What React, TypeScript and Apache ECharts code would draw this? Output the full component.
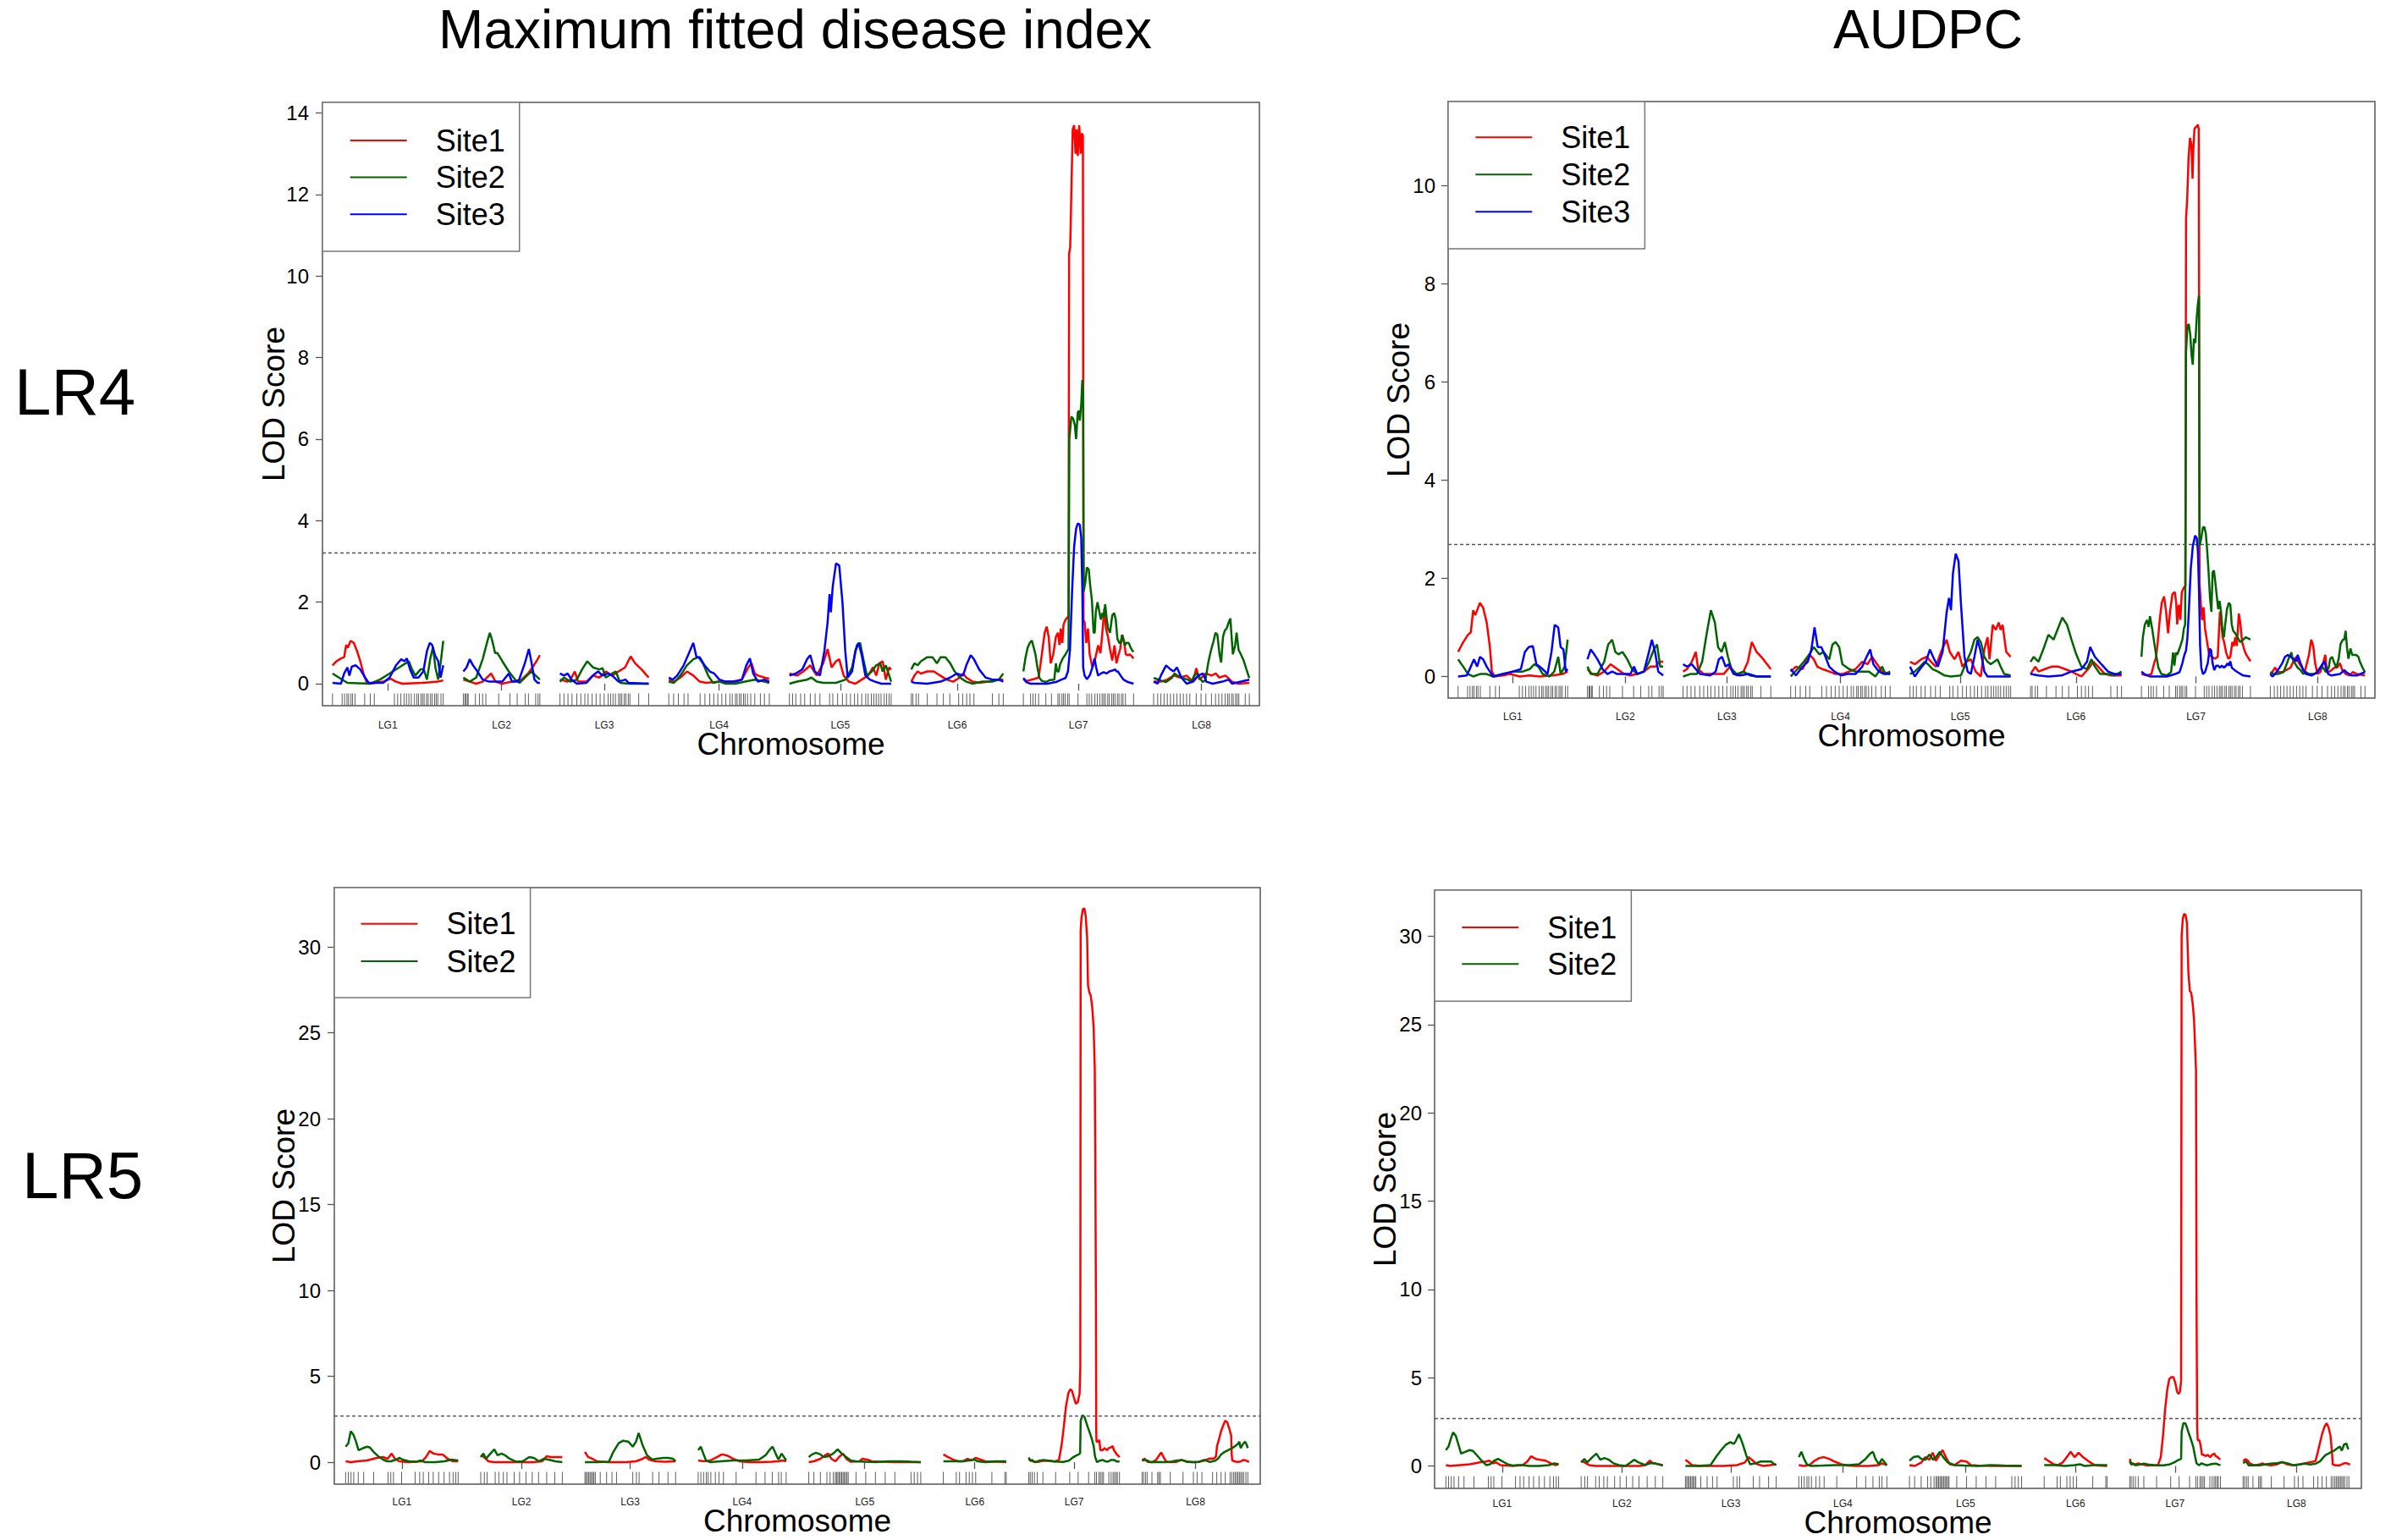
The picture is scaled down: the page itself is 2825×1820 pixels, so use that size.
import React, { useEffect, useRef } from 'react';
import * as echarts from 'echarts';

// ---------------- DATA ----------------
const CHROMS = ['LG1', 'LG2', 'LG3', 'LG4', 'LG5', 'LG6', 'LG7', 'LG8'];
const GAP_CM = 25;

// chromosome lengths (cM) of the two maps
const LR4_LENGTHS = [137.8, 95.2, 110.4, 125.1, 126.6, 114.5, 137.1, 119.1];
const LR5_LENGTHS = [124.6, 90.3, 100.4, 97.4, 124, 69.6, 100.4, 118.3];

// marker positions (cM within chromosome) – rug
const LR4_MARKERS = [
  [0, 12, 15, 18, 20, 23, 25, 28, 40, 47, 52, 77, 81, 85, 89, 92, 95, 98, 102, 105, 107, 110, 112, 114, 117, 119, 122, 124, 127, 129, 131, 135, 137.8],
  [0, 2, 3, 5, 6, 15, 20, 24, 28, 44, 58, 67, 77, 81, 90, 93, 95.2],
  [0, 5, 10, 15, 21, 26, 31, 35, 40, 45, 50, 55, 60, 63, 66, 69, 73, 75, 77, 80, 82, 85, 87, 98, 110.4],
  [0, 6, 12, 19, 24, 39, 45, 51, 56, 61, 66, 71, 76, 79, 83, 85, 88, 90, 93, 95, 98, 102, 107, 114, 119, 125.1],
  [0, 4, 8, 14, 19, 26, 32, 38, 50, 54, 60, 66, 71, 76, 81, 85, 90, 95, 98, 102, 105, 108, 111, 114, 118, 121, 124, 126.6],
  [0, 2, 6, 9, 20, 32, 40, 48, 59, 64, 69, 73, 78, 101, 109, 114.5],
  [0, 9, 12, 15, 19, 28, 35, 43, 45, 48, 50, 52, 55, 57, 68, 79, 82, 85, 89, 92, 95, 98, 100, 102, 105, 107, 110, 112, 114, 117, 119, 122, 124, 127, 137.1],
  [0, 5, 9, 13, 17, 21, 25, 29, 33, 37, 41, 45, 53, 59, 65, 72, 77, 81, 85, 89, 92, 94, 97, 99, 102, 104, 106, 114, 119.1],
];
const LR5_MARKERS = [
  [0, 3, 6, 9, 14, 20, 31, 47, 50, 53, 62, 77, 82, 86, 92, 97, 103, 109, 115, 119, 122, 124.6],
  [0, 4, 7, 16, 20, 25, 29, 37, 43, 50, 57, 64, 73, 82, 90.3],
  [0, 1.4, 2.9, 4.3, 5.7, 7.2, 8.6, 10, 11.5, 17, 24, 30, 35, 53, 57, 60, 75, 82, 92, 100.4],
  [0, 3, 6, 9, 11, 14, 19, 23, 28, 42, 64, 74, 82, 89, 92, 97.4],
  [0, 5.7, 12.9, 20.1, 23.6, 27.2, 29.4, 30.8, 32.2, 33.7, 35.1, 36.5, 38, 39.4, 40.8, 42.3, 43.7, 52.3, 63.1, 73.8, 84.6, 95.3, 113.2, 116.8, 120.4, 124],
  [0, 14.3, 17.9, 25.1, 28.7, 32.2, 35.8, 53.7, 68.1, 69.6],
  [0, 1.6, 3.7, 6.2, 9.4, 15.6, 29.7, 45.3, 54.6, 66.2, 73, 74.9, 77.7, 79.3, 81.1, 82.7, 88.6, 91.1, 93.3, 94.9, 96.7, 98, 100.4],
  [0, 1.6, 3.7, 5.6, 10.9, 17.2, 18.7, 20.3, 31.2, 45.3, 56.8, 60.9, 66.2, 78, 82.7, 87.4, 92.1, 97.4, 99.3, 101.4, 103, 104.6, 106.1, 107.7, 109.2, 110.8, 112.4, 114.9, 117],
];

// y tick labels
const LR4_MAXDI_TICKS = [0, 2, 4, 6, 8, 10, 12, 14];
const LR4_AUDPC_TICKS = [0, 2, 4, 6, 8, 10];
const LR5_TICKS = [0, 5, 10, 15, 20, 25, 30];

// LOD thresholds
const THR_LR4_MAXDI = 3.21;
const THR_LR4_AUDPC = 2.7;
const THR_LR5_MAXDI = 2.69;
const THR_LR5_AUDPC = 2.69;

// ---- LR4, Maximum fitted disease index: [cM, LOD] per chromosome ----
const MAXDI_LR4_SITE1 = [
  [[0,0.45],[5,0.55],[10.5,0.62],[14.5,0.65],[17,0.95],[19,0.88],[22.5,1.05],[26.5,1.0],[30.5,0.8],[34.5,0.55],[38.5,0.25],[42.5,0.03],[47,0],[63,0.05],[72.5,0.12],[79,0.05],[87,0],[111,0.02],[131,0.05],[137.8,0.08]],
  [[0,0.1],[8,0.05],[16,0],[24,0.05],[34.5,0.25],[40,0.05],[48,0],[60.5,0.05],[72.5,0.1],[80.5,0.25],[86,0.4],[91,0.55],[95.2,0.7]],
  [[0,0.1],[9,0.05],[13,0.1],[18.5,0.3],[22.5,0.05],[33,0.05],[41,0.2],[49,0.15],[57,0.3],[65,0.2],[73,0.3],[81,0.4],[88,0.67],[93.5,0.5],[101.5,0.35],[110.4,0.15]],
  [[0,0.1],[6.5,0.05],[14.5,0.15],[22.5,0.3],[30.5,0.2],[38.5,0.05],[46.5,0.02],[63,0.05],[79,0.05],[91,0.1],[99,0.4],[103,0.5],[107,0.25],[111,0.2],[119,0.15],[125.1,0.12]],
  [[0,0.25],[9.5,0.2],[17.5,0.3],[26,0.45],[34,0.2],[42,0.5],[47.5,0.85],[52.5,0.4],[58,0.55],[62,0.6],[67.5,0.2],[74,0.05],[82,0],[90,0.1],[98,0.2],[104,0.4],[108,0.2],[112,0.5],[116,0.55],[120,0.1],[124,0.4],[126.6,0.35]],
  [[0,0.05],[4,0.2],[8,0.3],[12,0.25],[20,0.3],[28,0.3],[36,0.2],[44,0.1],[52,0.05],[60.5,0.15],[64.5,0.25],[68.5,0.15],[76.5,0.05],[84.5,0.02],[96.5,0.05],[109,0.1],[114.5,0.1]],
  [[0,0.1],[5,0.07],[14,0.12],[19,0.15],[23,0.72],[26.5,1.25],[29,1.4],[31.5,1.15],[34,0.5],[37,0.7],[40.5,1.15],[43,1.25],[45,0.95],[46.5,1.35],[48.5,1.0],[50,1.45],[52.5,1.57],[55,1.63],[56.2,1.65],[56.9,10.55],[58.3,10.7],[59.7,12.05],[61.4,13.6],[63.2,13.7],[64.9,13.0],[66.3,13.6],[67.7,12.95],[69.5,13.7],[71.3,13.0],[72.7,13.5],[74.1,13.45],[74.8,1.57],[76.2,1.5],[78.3,1.0],[80.4,1.35],[82.5,0.72],[86,0.4],[89.5,0.62],[93,0.94],[96,0.75],[98.3,1.25],[100.7,1.84],[102.8,1.35],[105.3,1.15],[107.8,0.85],[110.6,0.57],[113.4,0.94],[115.8,0.5],[118.3,0.7],[120.4,0.84],[122.9,1.2],[125.3,1.05],[127.4,0.72],[130,0.7],[132.3,0.72],[135,0.67],[137.1,0.62]],
  [[0,0.05],[9,0.05],[17,0.1],[25,0.2],[33,0.15],[41,0.2],[49,0.05],[53,0.38],[57,0.1],[65,0.25],[72,0.2],[77.5,0.25],[81.5,0.15],[89.5,0.2],[97.5,0.05],[105.5,0],[119.1,0.02]],
];
const MAXDI_LR4_SITE2 = [
  [[0,0.25],[10.5,0.12],[18.5,0.02],[47,0],[59,0.1],[71,0.25],[83,0.4],[91,0.5],[95,0.55],[99,0.35],[103,0.2],[109.5,0.35],[113.5,0.35],[117.5,0.1],[121.5,0.6],[125,0.9],[128,0.4],[131.5,0.1],[134.5,0.5],[137.8,1.05]],
  [[0,0.15],[8,0.05],[16,0.15],[24,0.6],[30,1.05],[33,1.25],[36,1.05],[39.5,0.75],[42.5,0.75],[48.5,0.55],[56.5,0.3],[64.5,0.1],[70,0.02],[76.5,0.15],[84.5,0.3],[90,0.2],[95.2,0.1]],
  [[0,0.05],[5,0.15],[13,0.05],[21,0.1],[27.5,0.35],[34,0.55],[41,0.4],[49,0.35],[53,0.38],[57,0.15],[65,0.25],[69.5,0.3],[75,0.02],[85.5,0],[110.4,0]],
  [[0,0.05],[6.5,0.02],[14.5,0.2],[22.5,0.45],[30.5,0.6],[37,0.65],[42.5,0.5],[49,0.2],[55,0.02],[63,0.05],[71,0],[83,0],[95,0.05],[107,0.1],[119,0.05],[125.1,0.02]],
  [[0,0],[9.5,0.05],[22,0.1],[27.5,0.15],[34,0.05],[42,0.02],[58,0.02],[70,0.1],[78,0.4],[84,0.95],[88,1.0],[92,0.6],[96.5,0.2],[102.5,0.3],[108,0.45],[113,0.5],[116,0.3],[120,0.45],[126.6,0.05]],
  [[0,0.35],[4,0.5],[8,0.45],[12,0.55],[20,0.65],[26.5,0.65],[32,0.5],[36.5,0.65],[42.5,0.65],[48.5,0.5],[54,0.3],[60.5,0.15],[68.5,0.05],[76.5,0],[88.5,0.05],[101,0.05],[109,0.1],[114.5,0.25]],
  [[0,0.3],[2.5,0.62],[5.3,0.88],[8,1.0],[10.5,1.06],[13,0.88],[15,0.72],[17.5,0.4],[20,0.14],[23,0.07],[28,0.04],[33,0.09],[38.5,0.1],[40.5,0.5],[42,0.3],[44,0.3],[45.5,0.46],[49,0.62],[52.5,0.72],[55.5,0.83],[56.2,0.85],[57.2,6.0],[59.7,6.55],[62,6.5],[64,6.35],[65.6,6.0],[67.7,6.65],[69,6.7],[70.2,6.45],[72,6.85],[73.4,7.45],[74.4,7.1],[75.1,2.26],[77.2,2.5],[79,2.85],[81.4,2.8],[83.2,2.4],[85.3,2.05],[87.4,1.25],[88.8,1.25],[90.2,1.78],[92.3,2.0],[94.4,1.78],[96.5,1.57],[98.3,1.73],[100,1.63],[101.8,1.95],[103.5,1.63],[105.3,1.36],[107.8,1.25],[110.6,1.68],[113,1.73],[115,1.57],[117,1.1],[119.3,1.0],[121,1.0],[123,1.2],[124.6,1.05],[126.4,0.94],[128,1.0],[131,1.0],[133.4,0.89],[135,0.83],[137.1,0.78]],
  [[0,0.14],[5,0.11],[10,0.07],[15.5,0.04],[22.5,0.14],[26,0.25],[29.5,0.2],[36.5,0.14],[43.5,0.09],[47,0.04],[50.5,0.2],[54,0.25],[57.5,0.14],[61,0.04],[64.5,0.09],[68,0.52],[71.5,0.83],[74.5,1.04],[77,1.25],[79.3,1.2],[82,0.72],[84,0.52],[86.3,1.15],[88.5,1.3],[91,1.36],[93.7,1.52],[95.5,1.6],[97,1.15],[98.6,0.72],[101.4,0.94],[103.2,1.25],[105.7,0.83],[108.5,0.72],[112,0.57],[115.5,0.35],[118,0.2],[119.1,0.14]],
];
const MAXDI_LR4_SITE3 = [
  [[0,0.02],[10.5,0],[14.5,0.25],[18.5,0.4],[21,0.2],[24,0.42],[29,0.45],[34.5,0.35],[40.5,0.15],[45,0.02],[63,0.02],[71,0.15],[79,0.45],[85.5,0.6],[89.5,0.55],[92.5,0.62],[96.5,0.35],[101,0.15],[107,0.15],[113,0.3],[117.5,0.8],[121,1.0],[124,0.95],[127.5,0.7],[131.5,0.55],[134.5,0.15],[137.8,0.45]],
  [[0,0.3],[4,0.4],[8,0.6],[12,0.45],[17.5,0.3],[24,0.1],[32,0.05],[40,0.05],[48.5,0.05],[56.5,0.25],[60.5,0.05],[68.5,0.05],[76.5,0.5],[81.5,0.85],[84.5,0.55],[88.5,0.1],[92.5,0.02],[95.2,0.02]],
  [[0,0.25],[5,0.2],[9.5,0.25],[14.5,0.1],[21,0],[33,0.02],[41,0.2],[47.5,0.3],[53,0.2],[59.5,0.25],[65,0.2],[73,0.05],[81.5,0.1],[85.5,0.02],[110.4,0]],
  [[0,0.15],[5,0.1],[10.5,0.2],[18.5,0.45],[24,0.7],[30.5,1.0],[34.5,0.65],[38.5,0.65],[44.5,0.45],[51,0.3],[56.5,0.25],[63,0.1],[71,0.05],[83,0.05],[91,0.1],[96.5,0.45],[101,0.62],[105,0.25],[111,0.05],[119,0.1],[125.1,0.05]],
  [[0,0.2],[8,0.25],[16,0.35],[22,0.6],[26,0.7],[31.5,0.3],[38,0.2],[43.5,0.8],[47.5,1.5],[50,2.2],[51.5,1.75],[54,2.4],[58,2.95],[62,2.9],[66,2.0],[69.5,0.8],[72.5,0.15],[78,0.3],[82,0.8],[86,1.0],[90,0.7],[94.5,0.2],[100,0.1],[106.5,0.05],[114.5,0],[126.6,0]],
  [[0,0.05],[4,0.02],[20,0],[36.5,0.05],[48.5,0.15],[56.5,0.25],[64.5,0.2],[68.5,0.45],[74,0.7],[78,0.6],[84.5,0.35],[92.5,0.15],[101,0.1],[109,0.1],[114.5,0.05]],
  [[0,0.14],[3.5,0.04],[9,0],[30,0],[40.5,0.04],[47.5,0.1],[52.5,0.14],[55.5,0.3],[58,0.83],[60.7,2.3],[63.2,3.37],[65.6,3.8],[67.7,3.93],[70.2,3.9],[72,3.58],[73.4,2.3],[74.4,0.4],[76.2,0.2],[79,0.11],[82.5,0.2],[86,0.4],[88.5,0.62],[90.6,0.4],[93,0.2],[96.5,0.25],[100,0.28],[103.5,0.25],[107,0.3],[110.6,0.32],[114,0.35],[116,0.3],[117.6,0.3],[121,0.2],[124.6,0.1],[130,0.04],[137.1,0]],
  [[0,0.05],[5,0],[9,0.2],[15.5,0.45],[21,0.35],[25,0.3],[29,0.4],[34.5,0.15],[41,0],[49,0.05],[55.5,0.2],[61.5,0.25],[65.5,0.05],[73.5,0],[85.5,0.05],[93.5,0.1],[97.5,0],[119.1,0.1]],
];

// ---- LR4, AUDPC ----
const AUDPC_LR4_SITE1 = [
  [[0,0.5],[6.5,0.7],[12.5,0.85],[16,0.9],[19,1.35],[21.5,1.25],[24,1.35],[27.5,1.5],[31.5,1.4],[36,1.1],[40,0.6],[42.5,0.1],[46,0],[56.5,0.02],[65,0.05],[77.5,0],[90,0.02],[102.5,0],[119,0.02],[131.5,0.05],[137.8,0.1]],
  [[0,0.15],[6,0.05],[12.5,0.02],[21,0.1],[29,0.25],[37.5,0.15],[46,0.05],[54,0.02],[62.5,0.05],[71,0.1],[79,0.2],[86,0.2],[90,0.3],[95.2,0.3]],
  [[0,0.1],[5,0.15],[11,0.3],[16,0.5],[19,0.15],[26,0.05],[34,0.05],[42.5,0.05],[51,0.05],[59,0.2],[67.5,0.02],[76,0.1],[81.5,0.3],[86.5,0.7],[92.5,0.5],[101,0.35],[110.4,0.15]],
  [[0,0.1],[6.5,0.2],[15,0.15],[23.5,0.45],[29,0.35],[33.5,0.2],[40,0.15],[48.5,0.1],[56.5,0.05],[65,0.05],[73.5,0.1],[81.5,0.15],[90,0.3],[96.5,0.25],[102.5,0.4],[106.5,0.3],[115,0.1],[125.1,0.05]],
  [[0,0.3],[6,0.25],[14,0.35],[21,0.4],[26.5,0.3],[32.5,0.2],[39,0.5],[46,0.75],[50,0.5],[56,0.35],[61,0.5],[66,0.2],[71,0.3],[76.5,0.35],[82.5,0.1],[89,0],[93.5,0.55],[97.5,0.8],[100,0.35],[104,1.05],[108,0.95],[111.5,1.1],[114,0.95],[116.5,1.05],[121,0.5],[126.6,0.4]],
  [[0,0.05],[6,0.2],[10,0.1],[18,0.15],[26.5,0.2],[35,0.2],[43.5,0.15],[51.5,0.1],[57.5,0.05],[64,0],[72.5,0.15],[79,0.3],[85,0.2],[93.5,0.05],[101.5,0.02],[114.5,0.02]],
  [[0,0.05],[7,0.02],[12.5,0.05],[16,0.27],[18.5,0.4],[20.5,0.7],[23,1.15],[25.5,1.5],[28.5,1.63],[31,1.32],[33.5,0.88],[36,1.32],[39,1.68],[42,1.72],[43.7,1.5],[45,1.06],[47,1.46],[49,1.15],[50.8,1.72],[53.3,1.81],[55.4,1.85],[56.1,9.34],[57.5,9.7],[59.3,10.57],[61.1,10.97],[62.8,10.84],[64.3,10.14],[65.3,10.75],[66.7,11.15],[68.2,11.19],[69.6,11.2],[71,11.24],[72.1,11.15],[73.1,1.9],[74.6,1.5],[76.3,1.15],[78.1,1.41],[80,0.97],[81.7,0.8],[83.4,0.62],[85.2,0.44],[88.8,0.4],[92.3,0.36],[96,0.4],[98.7,1.32],[100.1,1.15],[102.2,0.8],[104,0.7],[106.5,0.49],[109.3,0.36],[111.8,0.4],[114.3,0.7],[116.4,0.62],[118,0.8],[120,0.62],[122.5,1.28],[124.3,1.1],[126.7,0.7],[129.6,0.53],[132,0.44],[137.1,0.31]],
  [[0,0.05],[2.5,0.09],[6,0.18],[9.5,0.09],[15,0.09],[20,0.13],[25.5,0.18],[29,0.31],[32.7,0.4],[36,0.27],[40,0.18],[43.3,0.09],[48.6,0.44],[51.5,0.75],[54,0.62],[56.4,0.27],[59.3,0.05],[63,0.09],[66.4,0.27],[69.2,0.44],[71,0.13],[73.5,0.09],[77,0.13],[80.6,0.18],[84,0.18],[87.7,0.27],[90.5,0.13],[95,0.05],[100,0.02],[103.7,0.09],[109,0.05],[119.1,0.02]],
];
const AUDPC_LR4_SITE2 = [
  [[0,0.35],[6.5,0.2],[12.5,0.05],[19,0],[27.5,0.05],[36,0.05],[44,0],[56.5,0.05],[69,0.1],[81.5,0.1],[90,0.15],[96,0.25],[101,0.2],[106.5,0.05],[115,0],[121,0.1],[126,0.4],[129,0.05],[134,0.2],[137.8,0.75]],
  [[0,0.2],[4,0.05],[12.5,0.05],[21,0.3],[26,0.65],[31,0.75],[35,0.5],[39,0.45],[44,0.5],[50,0.35],[56,0.15],[62.5,0.05],[71,0.1],[77.5,0.3],[83.5,0.55],[87.5,0.65],[91.5,0.2],[95.2,0.2]],
  [[0,0],[9,0.05],[17.5,0.05],[24,0.3],[30,0.9],[35,1.35],[40,1.1],[44,0.6],[48.5,0.5],[52.5,0.7],[56.5,0.4],[61,0.15],[67.5,0.05],[76,0.1],[84,0.02],[92.5,0],[110.4,0]],
  [[0,0],[8.5,0.15],[16.5,0.3],[23.5,0.45],[29,0.6],[36,0.45],[41.5,0.5],[48.5,0.35],[52.5,0.65],[56.5,0.7],[61,0.6],[65,0.25],[73.5,0.15],[81.5,0.1],[90,0.1],[98.5,0.1],[106.5,0],[115,0.2],[119,0.05],[125.1,0.1]],
  [[0,0.05],[6,0.1],[12.5,0.2],[18.5,0.3],[22.5,0.25],[28.5,0.15],[35,0.1],[43.5,0.02],[51.5,0],[64,0.02],[71,0.3],[76.5,0.5],[81,0.75],[85,0.8],[89,0.7],[93.5,0.4],[97.5,0.3],[101.5,0.25],[106,0.3],[110,0.35],[114,0.2],[118.5,0.05],[126.6,0.02]],
  [[0,0.3],[4,0.4],[10,0.3],[16,0.55],[22.5,0.85],[29,0.75],[35,1.0],[40,1.2],[46,1.05],[51.5,0.75],[57.5,0.45],[64,0.2],[71,0.15],[76.5,0.35],[81,0.2],[87.5,0.05],[97.5,0.05],[106,0.02],[114.5,0.1]],
  [[0,0.4],[1.8,0.8],[4.3,1.06],[7,1.15],[9,1.01],[10.7,1.23],[13.5,0.97],[16,0.7],[18.5,0.44],[21.3,0.18],[25,0.05],[32,0.02],[37.3,0.09],[39.8,0.49],[41.5,0.22],[43.3,0.49],[45,0.44],[47,0.53],[49,0.62],[51.5,0.75],[53.3,0.97],[55,1.06],[56.1,6.61],[57.9,7.14],[59.6,7.18],[61.4,6.96],[63.2,6.52],[64.6,6.35],[66,6.88],[67.8,6.79],[69.6,7.32],[71,7.58],[72.4,7.76],[73.1,2.65],[75.3,2.82],[77.4,3.04],[79.2,3.04],[81,2.91],[82.7,2.56],[84.5,2.12],[86.3,1.59],[88,1.32],[89.5,2.12],[91.2,2.16],[93.4,1.85],[94.8,1.63],[96.6,1.37],[98.3,1.54],[100.1,1.32],[102,0.93],[103.7,0.8],[105.4,1.06],[107.6,1.37],[110,1.5],[111.8,1.46],[113.6,1.06],[115.4,0.93],[118,0.88],[120.7,0.8],[124.3,0.7],[128,0.75],[131.4,0.8],[137.1,0.75]],
  [[0,0.09],[4.3,0.05],[9.6,0.05],[16.7,0.09],[21,0.27],[23.8,0.4],[26.6,0.49],[28,0.36],[31,0.27],[34.4,0.18],[38,0.13],[41.5,0.05],[45,0.09],[48.6,0.05],[55.7,0.05],[59.3,0.09],[62.8,0.18],[66.4,0.18],[70,0.09],[73.5,0.18],[75.3,0.36],[77.7,0.4],[80.6,0.27],[83,0.18],[86,0.36],[88.4,0.66],[91.2,0.75],[93,0.75],[94.8,0.93],[96.6,0.57],[98.3,0.36],[100.8,0.57],[103,0.44],[105.4,0.44],[108,0.44],[110.8,0.4],[112.5,0.31],[116,0.18],[119.1,0.09]],
];
const AUDPC_LR4_SITE3 = [
  [[0,0],[11,0.02],[16,0.2],[20,0.35],[24,0.2],[27.5,0.4],[31.5,0.35],[36,0.2],[40,0.1],[44,0],[56.5,0.05],[69,0.1],[79,0.15],[84,0.5],[89,0.6],[94,0.62],[98.5,0.25],[102.5,0.2],[106.5,0.15],[112.5,0.05],[117.5,0.5],[121.5,1.05],[126,1.0],[129,0.6],[132.5,0.55],[135.5,0.1],[137.8,0.15]],
  [[0,0.35],[4,0.55],[8.5,0.45],[12.5,0.35],[19,0.15],[25,0.05],[31,0.1],[37.5,0.05],[46,0.05],[54,0.05],[58.5,0.2],[62.5,0.05],[71,0.1],[76.5,0.45],[81,0.75],[85,0.5],[89,0.1],[95.2,0.02]],
  [[0,0.25],[5,0.2],[11,0.25],[16,0.15],[21.5,0.05],[34,0.02],[41,0.1],[45,0.35],[49,0.4],[53.5,0.2],[57.5,0.25],[63.5,0.05],[71.5,0.02],[82.5,0.05],[92.5,0],[110.4,0]],
  [[0,0.15],[6.5,0.02],[15,0.2],[21.5,0.3],[26,0.55],[30,1.0],[34,0.6],[38.5,0.6],[42.5,0.45],[48.5,0.2],[55,0.1],[63.5,0.02],[71.5,0.05],[81.5,0.05],[90,0.2],[94,0.35],[100,0.55],[104,0.25],[111,0.1],[117.5,0.05],[125.1,0.05]],
  [[0,0.2],[6,0],[12.5,0.15],[20,0.3],[25,0.55],[29,0.4],[35,0.2],[41,0.5],[46,1.3],[49,1.6],[51.5,1.35],[54,2.1],[57.5,2.5],[61,2.35],[64,1.5],[68.5,0.4],[72.5,0.1],[76.5,0.05],[81,0.4],[85,0.75],[89,0.5],[93.5,0.1],[97.5,0],[110,0],[126.6,0]],
  [[0,0.05],[10,0.02],[22.5,0],[39,0.02],[51.5,0.1],[64,0.15],[71,0.3],[75,0.6],[81,0.4],[89,0.25],[97.5,0.1],[106,0.05],[114.5,0.05]],
  [[0,0.1],[3.6,0.05],[10.7,0],[32,0],[42.6,0.05],[48,0.09],[51.5,0.27],[54,0.44],[56.1,0.53],[57.9,0.8],[59.6,1.32],[62.1,2.2],[64.6,2.65],[67.5,2.87],[69.6,2.82],[71,2.56],[72.4,1.76],[73.8,0.62],[75.3,0.18],[77.4,0.05],[80,0.09],[83.4,0.27],[86,0.57],[87.7,0.53],[89.5,0.27],[91.6,0.13],[94,0.22],[96.6,0.22],[98.7,0.18],[101.2,0.22],[103.7,0.18],[106.5,0.22],[108.3,0.27],[110,0.22],[111.8,0.31],[113.6,0.18],[117.2,0.13],[120.7,0.09],[128,0.02],[137.1,0]],
  [[0,0.05],[2.5,0],[6,0.05],[9.6,0.13],[15,0.27],[18.5,0.4],[22,0.44],[25.6,0.4],[29,0.36],[32.7,0.31],[34.4,0.44],[36.2,0.36],[38,0.27],[41.5,0.13],[45,0.05],[52,0.02],[59.3,0.09],[62.8,0.18],[66.4,0.27],[68.2,0.31],[70,0.18],[72.8,0.05],[77,0.02],[87.7,0.05],[93,0.13],[95.5,0.09],[102,0.02],[109,0.02],[119.1,0.09]],
];

// ---- LR5, Maximum fitted disease index ----
const MAXDI_LR5_SITE1 = [
  [[0,0.05],[6,0],[13,0.05],[23.5,0.1],[34.5,0.25],[41.5,0.3],[46.5,0.2],[51,0.5],[54.5,0.2],[59.5,0.05],[70,0],[84.5,0.05],[89,0.3],[93,0.65],[97.5,0.5],[102.5,0.45],[107.5,0.45],[113,0.2],[119,0.05],[124.6,0.05]],
  [[0,0.4],[3.5,0.3],[8.5,0.05],[14.5,0],[29,0],[43,0],[57.5,0],[68,0.05],[73,0.35],[77.5,0.3],[82.5,0.3],[90.3,0.3]],
  [[0,0.6],[3.5,0.3],[8,0.2],[13.5,0.05],[24.5,0],[46,0],[56.5,0.05],[64,0.2],[67.5,0.3],[71,0.15],[78,0.05],[89,0.02],[100.4,0.05]],
  [[0,0.1],[6.5,0.05],[13.5,0.1],[21,0.3],[26,0.45],[31.5,0.4],[38.5,0.2],[46,0.05],[56.5,0],[67.5,0],[81.5,0.02],[89,0.05],[93,0.1],[97.4,0.05]],
  [[0,0],[5.5,0.05],[13,0.2],[18,0.4],[21.5,0.5],[25,0.2],[29.5,0.05],[34.5,0.35],[38,0.5],[41.5,0.2],[46.5,0.02],[56,0.05],[59.5,0.2],[64.5,0.15],[70,0.05],[81,0.02],[95.5,0],[124,0]],
  [[0,0.45],[5,0.3],[10.5,0.15],[16.5,0.05],[21.5,0.05],[26.5,0.2],[31,0.1],[36,0.25],[41,0.15],[46.5,0.05],[53.5,0.02],[61,0.02],[69.6,0]],
  [[0,0.2],[2.2,0.08],[5.3,0.04],[10,0.01],[16.2,0.08],[22.5,0.08],[28.7,0.04],[33.4,0.13],[36.5,1.07],[38.7,2.05],[41.2,3.27],[43.7,4.0],[45.9,4.25],[48,4.13],[49.9,3.76],[52.1,3.4],[54.3,3.5],[56.2,4.0],[57,5.5],[57.4,30.96],[58.3,31.7],[59.9,32.2],[61.5,32.25],[63,31.8],[64.6,30.47],[65.5,27.8],[66.8,27.4],[68.6,27.15],[70.2,26.5],[71.8,25.3],[73,22.9],[73.6,18],[74.3,9.4],[74.6,2.05],[74.9,1.19],[76.4,1.19],[78,1.3],[79.2,0.7],[81.7,0.7],[83.9,0.82],[86.4,0.7],[88.6,0.82],[91.1,0.87],[93,0.94],[94.2,0.7],[95.8,0.58],[97.3,0.45],[98.9,0.38],[100.4,0.28]],
  [[0,0.13],[3,0.2],[6,0.01],[11,0],[15.5,0.13],[18.7,0.38],[21.2,0.57],[23.4,0.33],[26.5,0.04],[31,0],[37.5,0.01],[43.7,0.13],[50,0.04],[56,0],[62.5,0.01],[68.6,0.09],[75,0.21],[79.6,0.21],[81.7,0.33],[83,0.94],[85,1.31],[87.4,1.8],[90,2.17],[92,2.41],[94.2,2.33],[96.7,1.92],[98.6,1.56],[99.2,0.45],[99.8,0.1],[103,0.04],[106,0.01],[109,0.04],[112.3,0.13],[115.4,0.09],[118.3,0.01]],
];
const MAXDI_LR5_SITE2 = [
  [[0,0.9],[3,1.1],[5.7,1.8],[8.6,1.6],[11.5,1.2],[14.3,0.7],[18.6,0.8],[23.6,0.9],[27,0.85],[31,0.6],[36,0.35],[41.5,0.15],[46,0.05],[50,0.05],[56,0.15],[59.5,0.25],[63,0.15],[70,0.05],[77.5,0.02],[83,0.1],[88,0],[99,0],[109.5,0.05],[117,0.15],[124.6,0.1]],
  [[0,0.3],[3,0.5],[5.7,0.2],[10.7,0.5],[15,0.75],[18.6,0.4],[23,0.5],[27,0.4],[32,0.2],[39.5,0.02],[46.5,0.05],[53.7,0.3],[58.8,0.25],[64.5,0.05],[69.5,0.2],[75,0.15],[82.5,0.05],[90.3,0]],
  [[0,0],[13.5,0],[26.5,0.02],[31.5,0.6],[37.3,1.1],[42.3,1.25],[48,1.2],[53,0.9],[56.6,1.2],[59.5,1.7],[63.8,1.0],[68.8,0.4],[74.5,0.15],[79.5,0.2],[86.7,0.25],[92.4,0.25],[97.4,0.2],[100.4,0.05]],
  [[0,0.7],[2.9,0.9],[5.7,0.5],[8.6,0.1],[13.6,0],[24.5,0.05],[38.7,0.1],[53,0.1],[67.4,0.15],[74.5,0.4],[79.5,0.75],[82.4,0.9],[85.3,0.55],[88.8,0.15],[92.4,0.5],[97.4,0.1]],
  [[0,0.3],[3.6,0.45],[8,0.55],[13,0.45],[16.5,0.3],[22,0.35],[27,0.5],[32,0.75],[36.5,0.5],[41.5,0.3],[46.5,0.1],[52.3,0.05],[63,0.02],[74,0],[88,0.05],[102.5,0.05],[113,0.02],[124,0]],
  [[0,0.05],[10.7,0.05],[21.5,0.05],[28.7,0.1],[33.7,0.15],[38,0.05],[46.6,0],[57.3,0.05],[69.6,0.05]],
  [[0,0.28],[1.2,0.09],[3.7,0.13],[6.2,0.01],[8.4,0],[11.5,0.09],[16.2,0.13],[22.5,0.09],[28.7,0.04],[38,0.01],[44.3,0.09],[49,0.28],[52.1,0.38],[55.2,0.45],[56.8,0.52],[57.4,2.41],[59.3,2.73],[61.5,2.65],[63,2.41],[65.2,2.05],[67.7,1.68],[70,1.31],[71.8,0.94],[73.3,0.33],[75.5,0],[78.6,0.09],[81.7,0.13],[85,0.04],[88,0.04],[91,0.13],[94.2,0.13],[97.3,0.04],[100.4,0.04]],
  [[0,0.09],[3,0.13],[6,0.09],[9.4,0],[15.6,0.01],[25,0],[31,0.01],[37.4,0.09],[43.7,0.13],[50,0.01],[56,0],[62.4,0.01],[68.6,0.13],[75,0.01],[81,0.09],[84.2,0.21],[87.4,0.45],[90.5,0.57],[95.2,0.7],[99.8,0.82],[103,0.94],[106,1.06],[107.6,1.19],[109.2,0.82],[111.7,1.06],[114,1.19],[115.4,1.06],[117,0.82]],
];

// ---- LR5, AUDPC ----
const AUDPC_LR5_SITE1 = [
  [[0,0.05],[4.5,0],[15.5,0.05],[26.5,0.1],[37.5,0.2],[44.5,0.25],[48,0.3],[52,0.15],[55.5,0.2],[60.5,0.05],[74,0],[85,0.05],[90,0.25],[94.3,0.55],[99.4,0.4],[104.5,0.35],[110.4,0.3],[116,0.15],[121.3,0.05],[124.6,0.1]],
  [[0,0.3],[3.7,0.2],[8.8,0.05],[16,0],[41.7,0],[63.6,0],[71,0.05],[76,0.3],[79.7,0.15],[85.5,0.1],[90.3,0.05]],
  [[0,0.35],[3.7,0.2],[7.3,0.05],[17,0],[42.4,0],[57,0.05],[65.8,0.2],[70.2,0.5],[74.6,0.3],[79,0.1],[86.3,0],[93.6,0.05],[100.4,0.1]],
  [[0,0.05],[5.8,0],[11.7,0.05],[17.5,0.3],[22.7,0.45],[27.8,0.5],[33.6,0.4],[39.5,0.25],[46.8,0.1],[54,0.02],[63,0],[77.5,0],[88.5,0.05],[92,0.15],[97.4,0.05]],
  [[0,0.05],[5.8,0],[13.2,0.2],[17.5,0.5],[22,0.35],[25.6,0.75],[29.2,0.3],[33.6,0.65],[36.6,0.9],[40.2,0.5],[44.6,0.1],[49.7,0.05],[57,0.3],[63,0.25],[68,0.05],[75.3,0.02],[90,0],[124,0]],
  [[0,0.45],[4.4,0.3],[10.2,0.1],[15.4,0.05],[20.5,0.2],[25,0.5],[29.2,0.8],[33.6,0.5],[38,0.75],[43,0.5],[48.2,0.3],[54,0.1],[59.2,0.02],[69.6,0]],
  [[0,0.4],[1.6,0.15],[4.7,0.08],[9.4,0.15],[14,0.08],[18.7,0.04],[25,0.04],[31.2,0.04],[34.3,0.5],[36.8,1.7],[39,3.13],[41.5,4.32],[43.7,4.92],[46,5.03],[48.4,5.03],[50.5,4.68],[52.4,4.2],[54,4.08],[55.5,4.2],[56.8,4.8],[57.4,30.0],[58.7,31.0],[60.2,31.27],[61.8,31.2],[63.3,30.75],[64.9,27.9],[66.5,26.9],[68,26.8],[69.6,26.2],[71.1,25.3],[72.4,23.6],[73.3,22.4],[73.9,9.3],[74.6,2.17],[75.2,1.46],[77.1,1.46],[78.6,1.1],[79.9,0.63],[81.7,0.63],[84.2,0.56],[86.4,0.63],[88.9,0.5],[91.1,0.63],[93.6,0.7],[95.2,0.56],[97.3,0.5],[99.5,0.39],[100.4,0.39]],
  [[0,0.27],[2.5,0.39],[5,0.32],[7.2,0.15],[12,0.04],[18,0.08],[21.2,0.15],[24.3,0.08],[30.6,0.04],[36.8,0.08],[43,0.22],[49.3,0.08],[55.5,0.04],[61.8,0.08],[68,0.15],[74.3,0.22],[80,0.27],[82.4,0.75],[84.6,1.22],[87.4,1.82],[90,2.23],[92.4,2.42],[94.5,2.18],[96.7,1.7],[98.3,0.75],[99.2,0.08],[102.3,0.04],[107,0.04],[111.7,0.15],[114.8,0.15],[118.3,0.08]],
];
const AUDPC_LR5_SITE2 = [
  [[0,0.9],[2.9,1.1],[5.8,1.6],[8,1.9],[11,1.7],[13.9,1.2],[16.8,0.7],[21.2,0.8],[26.3,0.9],[30,0.85],[34.4,0.6],[39.5,0.3],[44.6,0.05],[49,0.1],[53.4,0.3],[57.7,0.4],[63,0.25],[68,0.1],[73.8,0.02],[79.7,0.05],[84.8,0.05],[92,0],[103,0],[114,0.05],[120,0.15],[124.6,0.1]],
  [[0,0.2],[3.7,0.4],[6.6,0.2],[12.4,0.5],[16.8,0.7],[21.2,0.35],[25.6,0.45],[30.7,0.35],[35.8,0.15],[41.7,0.05],[49,0],[54.8,0.2],[58.5,0.35],[63.6,0.2],[71,0.05],[76,0.15],[82,0.15],[90.3,0.02]],
  [[0,0],[13.2,0],[27.8,0.05],[33.6,0.5],[39.5,0.9],[44.6,1.2],[49.7,1.35],[53.4,1.25],[55.6,1.4],[59.2,1.8],[63,1.3],[67.3,0.6],[71.6,0.1],[77.5,0.15],[83.3,0.25],[90,0.25],[95,0.25],[98,0.1],[100.4,0.05]],
  [[0,0.5],[2.9,0.8],[5.8,0.4],[8.8,0.1],[13.2,0],[26.3,0.02],[41,0.05],[55.6,0.05],[66.5,0.1],[73.8,0.4],[79,0.7],[82,0.8],[84.8,0.4],[88.5,0.1],[92,0.4],[97.4,0.05]],
  [[0,0.3],[4.4,0.5],[9.5,0.55],[13.2,0.4],[17.5,0.35],[22,0.65],[26.3,0.35],[30.7,0.6],[33.6,0.8],[37.3,0.5],[42.4,0.2],[49.7,0.05],[60.7,0.02],[75.3,0],[90,0.05],[104.5,0.02],[124,0]],
  [[0,0.05],[11.7,0.05],[22.7,0],[33.6,0.05],[39.5,0.1],[44.6,0],[55.6,0.05],[69.6,0.05]],
  [[0,0.27],[1.6,0.08],[3.7,0.15],[6.2,0.04],[11,0.08],[15.6,0.13],[20.3,0.08],[28,0.04],[37.4,0.04],[43.7,0.08],[46.8,0.15],[50,0.22],[53,0.32],[56.8,0.4],[57.4,1.94],[59.3,2.42],[61.5,2.42],[63.3,2.18],[65.5,1.82],[68,1.46],[70.2,1.1],[72.4,0.51],[73.9,0.15],[76.4,0.04],[79.6,0.15],[82.7,0.08],[85.8,0.04],[90.5,0.11],[95.2,0.13],[100.4,0.04]],
  [[0,0.15],[3,0.27],[6.2,0.04],[12,0.04],[18,0.04],[24.3,0.08],[30.6,0.13],[36.8,0.15],[43,0.22],[49.3,0.15],[55.5,0.04],[61.8,0.08],[68,0.13],[74.3,0.08],[80.5,0.13],[85.2,0.27],[88.3,0.46],[91.4,0.63],[94.5,0.7],[97.7,0.8],[100.8,0.87],[104,0.99],[107,1.1],[109.2,0.87],[111.7,1.22],[114.2,1.27],[116.4,0.94]],
];

// ---------------- HELPERS ----------------
const FONT = '"Liberation Sans", Arial, Helvetica, sans-serif';
const COLORS = { Site1: '#ff0000', Site2: '#006400', Site3: '#0000ff' };

function chromStarts(lengths: number[]) {
  const s: number[] = [];
  let acc = GAP_CM / 2;
  for (const L of lengths) { s.push(acc); acc += L + GAP_CM; }
  return s;
}
function totalLength(lengths: number[]) {
  return lengths.reduce((a, b) => a + b, 0) + GAP_CM * lengths.length;
}
function toSeriesData(curve: number[][][], lengths: number[]) {
  const starts = chromStarts(lengths);
  const out: any[] = [];
  curve.forEach((pts, i) => {
    pts.forEach(([p, l]) => out.push([starts[i] + p, l]));
    out.push([starts[i] + lengths[i] + GAP_CM / 2, null]);
  });
  return out;
}

const PANELS = [
  {
    grid: { left: 381, top: 121, width: 1107, height: 713 },
    lengths: LR4_LENGTHS, markers: LR4_MARKERS, yMin: -0.54, yMax: 14.26, ticks: LR4_MAXDI_TICKS,
    threshold: THR_LR4_MAXDI, labelMargin: 16, yNameGap: 42.4, xNameGap: 32.5, xLabelMargin: 18,
    sites: [['Site1', MAXDI_LR4_SITE1], ['Site2', MAXDI_LR4_SITE2], ['Site3', MAXDI_LR4_SITE3]],
    legend: { left: 381, top: 121, padding: [27, 17, 25.7, 32.7], itemGap: 7.6 },
  },
  {
    grid: { left: 1711, top: 120, width: 1095, height: 705 },
    lengths: LR4_LENGTHS, markers: LR4_MARKERS, yMin: -0.44, yMax: 11.71, ticks: LR4_AUDPC_TICKS,
    threshold: THR_LR4_AUDPC, labelMargin: 15, yNameGap: 43.8, xNameGap: 31.5, xLabelMargin: 17,
    sites: [['Site1', AUDPC_LR4_SITE1], ['Site2', AUDPC_LR4_SITE2], ['Site3', AUDPC_LR4_SITE3]],
    legend: { left: 1711, top: 120, padding: [24.3, 17, 25.7, 32.3], itemGap: 8 },
  },
  {
    grid: { left: 395, top: 1049, width: 1094, height: 705 },
    lengths: LR5_LENGTHS, markers: LR5_MARKERS, yMin: -1.28, yMax: 33.46, ticks: LR5_TICKS,
    threshold: THR_LR5_MAXDI, labelMargin: 16, yNameGap: 44.5, xNameGap: 30.7, xLabelMargin: 16.2,
    sites: [['Site1', MAXDI_LR5_SITE1], ['Site2', MAXDI_LR5_SITE2]],
    legend: { left: 395, top: 1049, padding: [24.7, 17, 25, 31.5], itemGap: 8.3 },
  },
  {
    grid: { left: 1695, top: 1052, width: 1095, height: 707 },
    lengths: LR5_LENGTHS, markers: LR5_MARKERS, yMin: -1.27, yMax: 32.61, ticks: LR5_TICKS,
    threshold: THR_LR5_AUDPC, labelMargin: 15, yNameGap: 43.5, xNameGap: 27.3, xLabelMargin: 12.8,
    sites: [['Site1', AUDPC_LR5_SITE1], ['Site2', AUDPC_LR5_SITE2]],
    legend: { left: 1695, top: 1052, padding: [26, 17, 26, 32.3], itemGap: 7.3 },
  },
];

function buildOption() {
  const grid: any[] = [];
  const xAxis: any[] = [];
  const yAxis: any[] = [];
  const series: any[] = [];
  const legend: any[] = [];

  PANELS.forEach((p: any, idx) => {
    const starts = chromStarts(p.lengths);
    const mids = starts.map((s, i) => s + p.lengths[i] / 2);
    grid.push({
      ...p.grid, show: true, borderColor: '#555', borderWidth: 1.5,
      backgroundColor: 'transparent', containLabel: false, outerBoundsMode: 'none',
    });
    xAxis.push({
      type: 'value', gridIndex: idx, min: 0, max: totalLength(p.lengths),
      axisLine: { show: false },
      splitLine: { show: false },
      axisTick: { show: true, customValues: mids, length: 8, lineStyle: { color: '#555', width: 1.3 } },
      axisLabel: {
        show: true, customValues: mids, margin: p.xLabelMargin, fontSize: 12, lineHeight: 10,
        color: '#222', fontFamily: FONT,
        formatter: (v: number) => {
          const i = mids.findIndex((m) => Math.abs(m - v) < 1e-6);
          return i >= 0 ? CHROMS[i] : '';
        },
      },
      name: 'Chromosome', nameLocation: 'middle', nameGap: p.xNameGap, nameMoveOverlap: false,
      nameTextStyle: { fontSize: 37, lineHeight: 26, color: '#000', fontFamily: FONT },
    });
    yAxis.push({
      type: 'value', gridIndex: idx, min: p.yMin, max: p.yMax,
      axisLine: { show: false },
      splitLine: { show: false },
      axisTick: { show: true, customValues: p.ticks, length: 8, lineStyle: { color: '#555', width: 1.3 } },
      axisLabel: { show: true, customValues: p.ticks, margin: p.labelMargin, fontSize: 24, color: '#000', fontFamily: FONT },
      name: 'LOD Score', nameLocation: 'middle', nameGap: p.yNameGap, nameRotate: 90, nameMoveOverlap: false,
      nameTextStyle: { fontSize: 37, lineHeight: 30, color: '#000', fontFamily: FONT },
    });

    // marker rug
    const rugData: any[] = [];
    p.markers.forEach((arr: number[], i: number) => arr.forEach((m) => rugData.push([starts[i] + m, p.yMin])));
    const yMin = p.yMin;
    series.push({
      type: 'custom', name: 'markers' + idx, xAxisIndex: idx, yAxisIndex: idx, silent: true, z: 1,
      encode: { x: 0, y: 1 },
      data: rugData,
      renderItem: (_params: any, api: any) => {
        const pt = api.coord([api.value(0), yMin]);
        return {
          type: 'line',
          shape: { x1: pt[0], y1: pt[1] - 0.5, x2: pt[0], y2: pt[1] - 14.5 },
          style: { stroke: 'rgba(40,40,40,0.75)', lineWidth: 1 },
        };
      },
    });

    p.sites.forEach(([name, curve]: any, si: number) => {
      const s: any = {
        type: 'line', name, xAxisIndex: idx, yAxisIndex: idx,
        data: toSeriesData(curve, p.lengths),
        showSymbol: false, symbol: 'none', connectNulls: false, smooth: false,
        color: (COLORS as any)[name],
        lineStyle: { width: 2.5, color: (COLORS as any)[name] },
        z: 3 + si,
      };
      if (si === 0) {
        s.markLine = {
          silent: true, symbol: ['none', 'none'], label: { show: false },
          lineStyle: { color: '#555', type: [4, 3], width: 1.3 },
          emphasis: { disabled: true },
          data: [{ yAxis: p.threshold }],
        };
      }
      series.push(s);
    });

    legend.push({
      show: true, orient: 'vertical', left: p.legend.left, top: p.legend.top,
      padding: p.legend.padding, itemGap: p.legend.itemGap,
      data: p.sites.map((s: any) => s[0]),
      icon: 'rect', itemWidth: 67, itemHeight: 2,
      itemStyle: { borderWidth: 0 },
      textStyle: { fontSize: 36, color: '#000', fontFamily: FONT, lineHeight: 36, padding: [0, 0, 0, 29] },
      borderColor: '#777', borderWidth: 1.5, backgroundColor: '#fff', borderRadius: 0,
      selectedMode: false, z: 10,
    });
  });

  const graphic = [
    { type: 'text', x: 939.6, y: 34.5, style: { text: 'Maximum fitted disease index', fontSize: 64, fontFamily: FONT, fill: '#000', align: 'center', verticalAlign: 'middle', textAlign: 'center', textVerticalAlign: 'middle' } },
    { type: 'text', x: 2278, y: 34.5, style: { text: 'AUDPC', fontSize: 64, fontFamily: FONT, fill: '#000', align: 'center', verticalAlign: 'middle', textAlign: 'center', textVerticalAlign: 'middle' } },
    { type: 'text', x: 17, y: 463, style: { text: 'LR4', fontSize: 78, fontFamily: FONT, fill: '#000', align: 'left', verticalAlign: 'middle', textAlign: 'left', textVerticalAlign: 'middle' } },
    { type: 'text', x: 26, y: 1389, style: { text: 'LR5', fontSize: 78, fontFamily: FONT, fill: '#000', align: 'left', verticalAlign: 'middle', textAlign: 'left', textVerticalAlign: 'middle' } },
  ];

  return {
    animation: false,
    backgroundColor: '#ffffff',
    textStyle: { fontFamily: FONT },
    grid, xAxis, yAxis, series, legend, graphic,
  };
}

export default function App() {
  const ref = useRef<HTMLDivElement>(null);
  useEffect(() => {
    if (!ref.current) return;
    const chart = echarts.init(ref.current, null, { renderer: 'svg' });
    chart.setOption(buildOption() as any);
    return () => { chart.dispose(); };
  }, []);
  return (
    <div
      ref={ref}
      style={{ position: 'fixed', left: 0, top: 0, width: 2825, height: 1820, background: '#fff' }}
    />
  );
}
